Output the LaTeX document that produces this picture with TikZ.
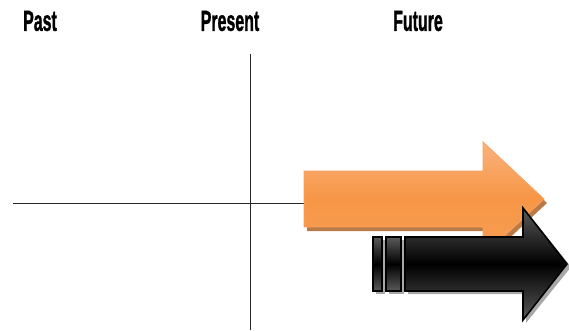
\documentclass[tikz,border=0pt]{standalone}
\usepackage{fontspec}
\newfontfamily\labelfont[FakeBold=1.6]{Liberation Sans}
\newcommand{\lbltext}[1]{\scalebox{0.55}[1]{\labelfont\bfseries\fontsize{29}{29}\selectfont #1}}
\definecolor{orfill}{HTML}{F79646}
\definecolor{orlight}{HTML}{F9B27C}
\definecolor{oredge}{HTML}{F8A060}
\definecolor{orshadow}{HTML}{B97A45}
\definecolor{blgray}{HTML}{5A5A5A}
\definecolor{blshadow}{HTML}{A8A8A8}
\tikzset{
  axis/.style={line width=1pt, black!85},
  lbl/.style={inner sep=0pt},
  orarrow/.style={draw=oredge, line width=0.8pt, top color=orlight, bottom color=orfill!92!white, middle color=orfill},
  orshad/.style={fill=orshadow, draw=none},
  blarrow/.style={draw=black, line width=1.6pt, top color=blgray, bottom color=blgray, middle color=black},
  blshad/.style={fill=blshadow, draw=none}
}
\begin{document}
\begin{tikzpicture}[x=1pt,y=-1pt]
\useasboundingbox (0,0) rectangle (569,330);
% labels
\node[lbl] (past) at (40,21) {\lbltext{Past}};
\node[lbl] (present) at (230,21) {\lbltext{Present}};
\node[lbl] (future) at (418,21) {\lbltext{Future}};
% axes
\coordinate (vtop) at (250,54);
\coordinate (vbot) at (250,330);
\coordinate (hleft) at (13,203);
\coordinate (hright) at (305,203);
\draw[axis] (vtop) -- (vbot);
\draw[axis] (hleft) -- (hright);
% orange arrow
\path[orshad] (307,175) -- (486,175) -- (486,146) -- (547,203) -- (486,260) -- (486,231) -- (307,231) -- cycle;
\shade[orarrow] (304,171) -- (483,171) -- (483,142) -- (544,199) -- (483,256) -- (483,227) -- (304,227) -- cycle;
% black arrow shadows
\path[blshad] (376,240) rectangle (385,294);
\path[blshad] (389,240) rectangle (404,294);
\path[blshad] (408,240) -- (526,240) -- (526,211) -- (571,267) -- (526,323) -- (526,294) -- (408,294) -- cycle;
% black arrow
\shade[blarrow] (373,237) rectangle (382,291);
\shade[blarrow] (386,237) rectangle (401,291);
\shade[blarrow] (405,237) -- (523,237) -- (523,208) -- (567,264) -- (523,320) -- (523,291) -- (405,291) -- cycle;
\end{tikzpicture}
\end{document}
